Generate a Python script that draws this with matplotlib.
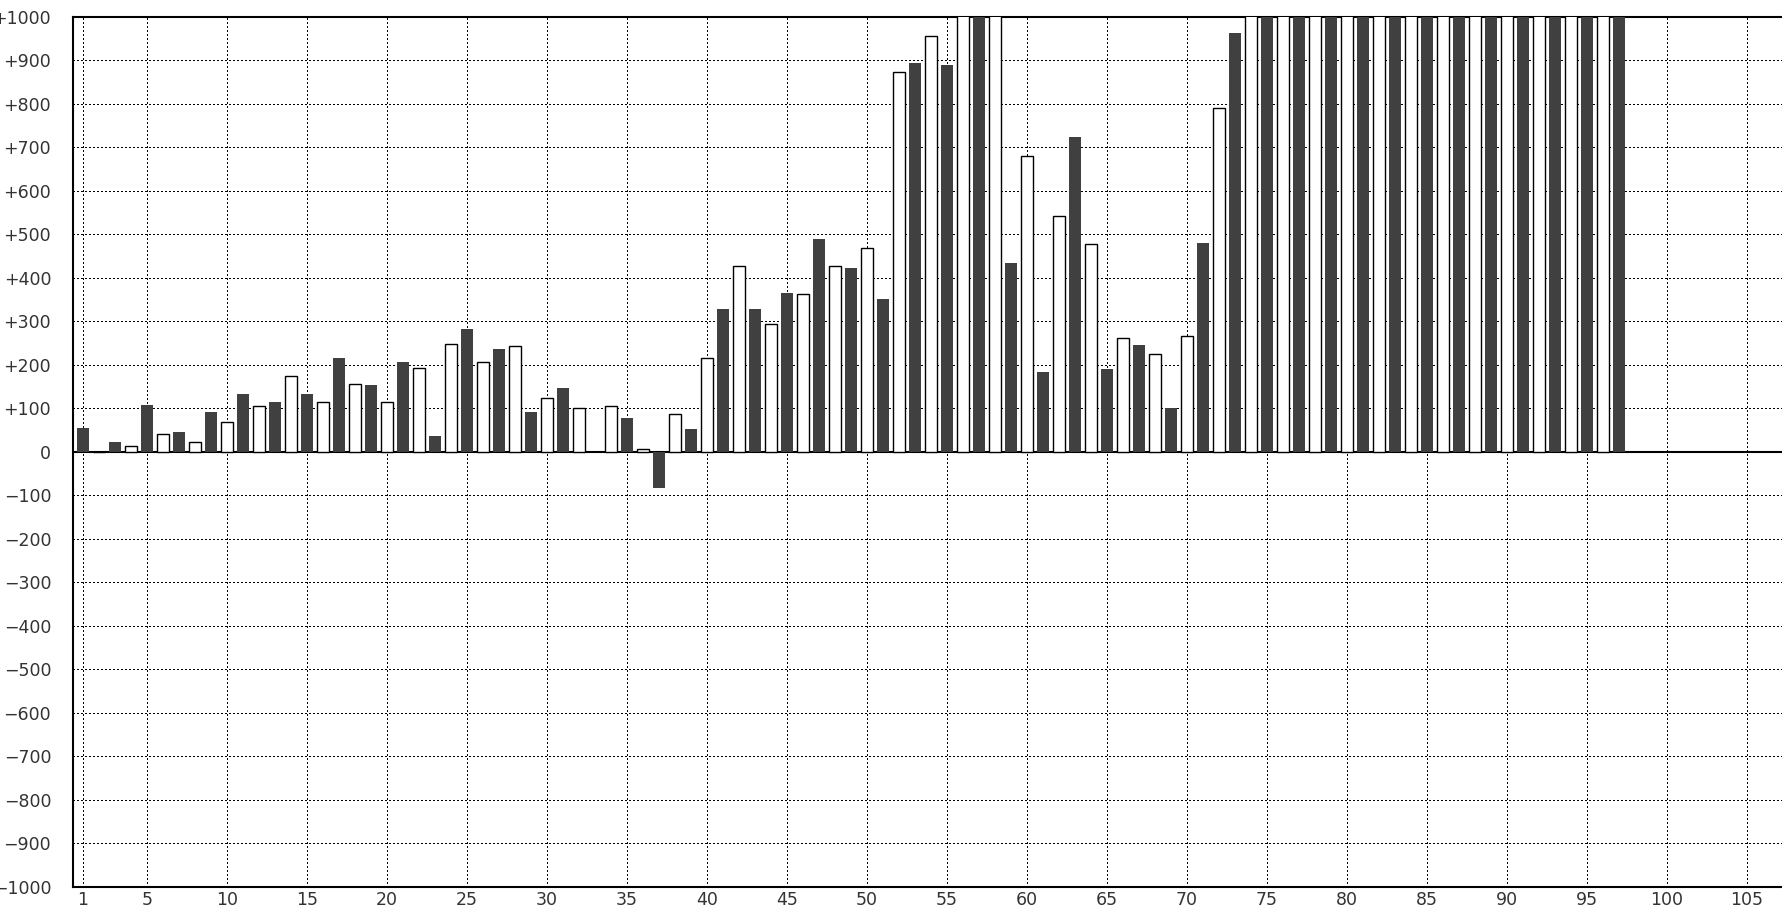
import numpy as np
import matplotlib
matplotlib.use("Agg")
import matplotlib.pyplot as plt

# bar index 1..97, odd bars dark, even bars white
positions = list(range(1, 98))
values = [
    55, 0, 23, 12, 106, 40, 46, 21, 92, 67,
    133, 104, 115, 173, 133, 113, 216, 155, 152, 113,
    207, 192, 37, 247, 281, 205, 235, 242, 92, 123,
    147, 100, -2, 104, 78, 6, -83, 86, 51, 215,
    327, 426, 327, 293, 364, 362, 488, 426, 423, 468,
    350, 873, 893, 956, 888, 1100, 1100, 1100, 433, 680,
    184, 541, 722, 477, 189, 261, 244, 224, 101, 265,
    479, 790, 962, 1100, 1100, 1100, 1100, 1100, 1100, 1100,
    1100, 1100, 1100, 1100, 1100, 1100, 1100, 1100, 1100, 1100,
    1100, 1100, 1100, 1100, 1100, 1100, 1100,
]
x_ticks = [1, 5, 10, 15, 20, 25, 30, 35, 40, 45, 50, 55, 60, 65, 70, 75, 80, 85, 90, 95, 100, 105]
y_ticks = list(range(-1000, 1001, 100))
y_labels = [("+%d" % v if v > 0 else ("0" if v == 0 else "\u2212%d" % -v)) for v in y_ticks]

W, H = 1782, 908
fig = plt.figure(figsize=(W / 100, H / 100), dpi=100)
left = 72.7 / W
bottom = (H - 886.7) / H
top = (H - 16.5) / H
ax = fig.add_axes([left, bottom, 1.0 - left, top - bottom])

pos = np.array(positions)
vals = np.array(values)
odd = pos % 2 == 1
ax.bar(pos[odd], vals[odd], width=0.75, color="#404040", linewidth=0, zorder=3)
ax.bar(pos[~odd], vals[~odd], width=0.75, color="white", edgecolor="black",
       linewidth=1.0, zorder=3)

ax.axhline(0, color="black", linewidth=1.5, zorder=2)

ax.set_xlim(0.375, (W - 66.7) / 16)
ax.set_ylim(-1000, 1000)
ax.set_xticks(x_ticks)
ax.set_yticks(y_ticks)
ax.set_yticklabels(y_labels)
ax.grid(True, color="black", linestyle=(0, (0.75, 1.45)), linewidth=1.0,
        antialiased=False, zorder=1)
ax.set_axisbelow(True)

ax.tick_params(axis="both", length=0, labelsize=12.5, labelcolor="#333333")
ax.tick_params(axis="y", pad=15.5)
ax.tick_params(axis="x", pad=3)

for s in ["left", "bottom", "top"]:
    ax.spines[s].set_linewidth(1.5)
    ax.spines[s].set_color("black")
ax.spines["right"].set_visible(False)

fig.savefig("out.png", dpi=100)
